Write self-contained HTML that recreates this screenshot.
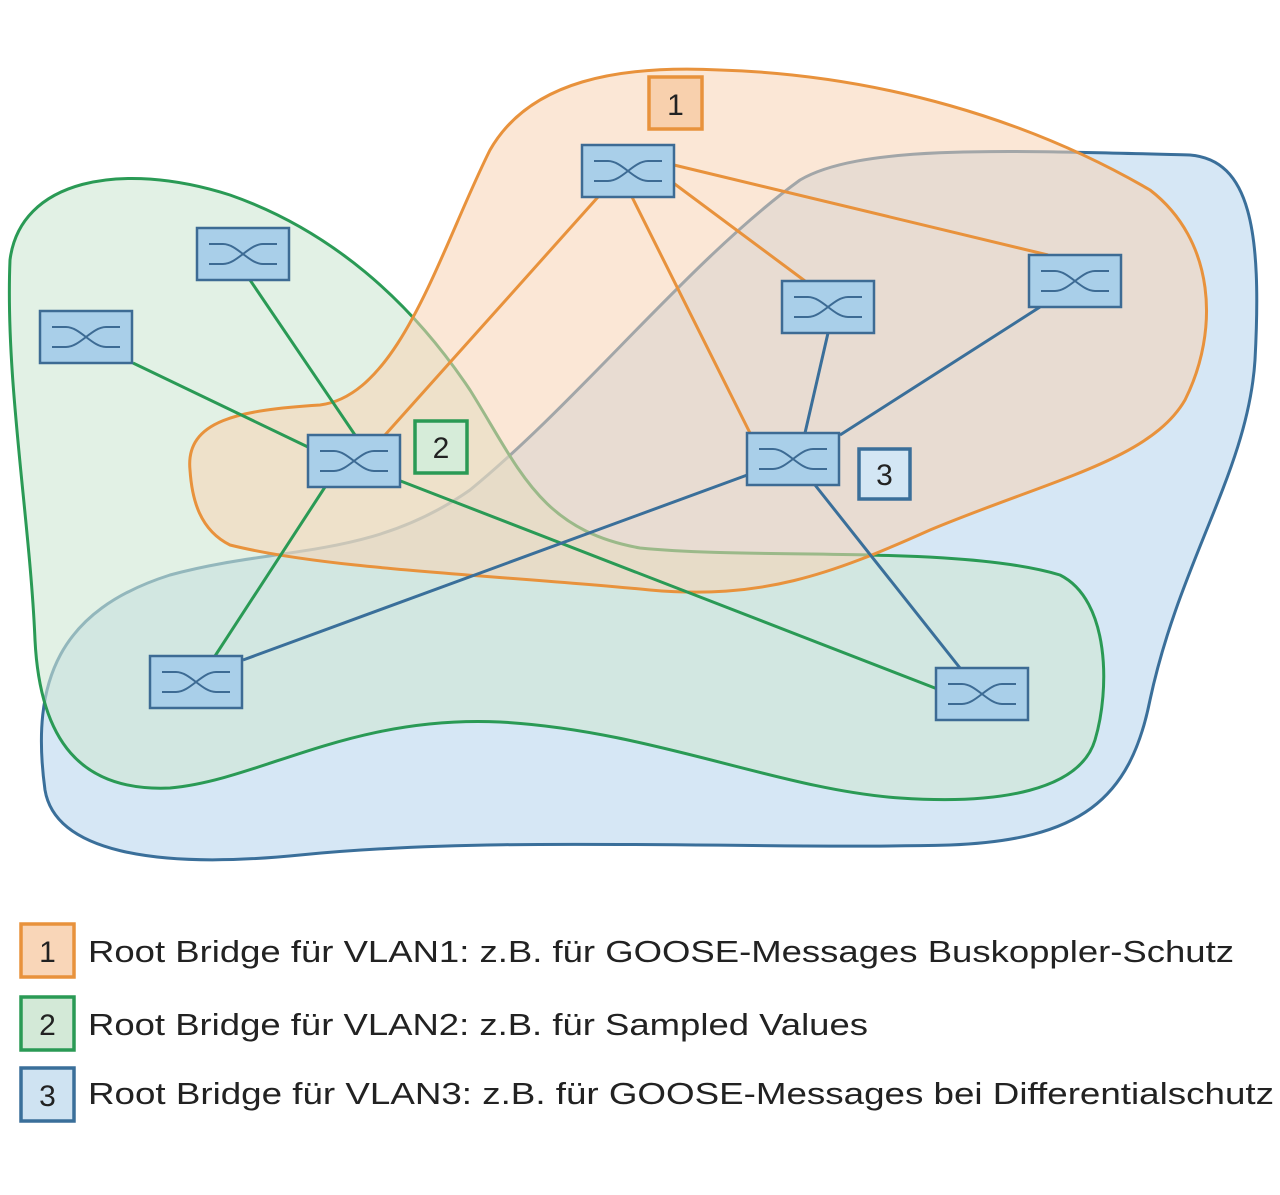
<!DOCTYPE html>
<html><head><meta charset="utf-8"><style>
body{margin:0;background:#fff}
svg text{font-family:"Liberation Sans",sans-serif;fill:#222}
</style></head><body>
<svg width="1280" height="1190" viewBox="0 0 1280 1190">
<defs>
<g id="sw">
<rect x="-46" y="-26" width="92" height="52" fill="#a9cfe9" stroke="#3d6b94" stroke-width="2.5"/>
<path d="M-34,-10 H-20 C-6,-10 6,10 20,10 H34 M-34,10 H-20 C-6,10 6,-10 20,-10 H34" fill="none" stroke="#3d6b94" stroke-width="2"/>
</g>
</defs>
<path d="M45,790 C30,680 60,610 170,575 C280,545 370,560 470,490 C580,400 690,260 800,180 C860,145 1000,150 1190,155 C1250,160 1262,230 1255,360 C1248,470 1180,560 1150,700 C1130,800 1080,840 950,845 C750,850 500,835 300,855 C150,870 55,850 45,790 Z" fill="#c8dff1" fill-opacity="0.75" stroke="#3a6f9a" stroke-width="3"/>
<path d="M10,260 C20,180 120,160 230,195 C330,230 410,300 470,390 C520,470 540,530 640,548 C760,560 960,545 1060,575 C1110,600 1110,690 1095,740 C1080,790 1000,805 900,798 C780,790 650,730 500,722 C350,715 260,780 170,788 C80,792 40,740 35,640 C30,520 5,380 10,260 Z" fill="#cfe7d3" fill-opacity="0.6" stroke="#2a9a55" stroke-width="3"/>
<path d="M190,470 C185,420 240,410 320,405 C400,395 440,250 490,150 C530,80 620,65 720,70 C880,75 1030,120 1150,190 C1215,240 1220,330 1185,400 C1150,460 1050,480 930,530 C830,575 760,600 650,590 C500,575 330,570 230,545 C200,530 192,500 190,470 Z" fill="#f8d4b4" fill-opacity="0.55" stroke="#e8923c" stroke-width="3"/>
<g stroke-width="3" fill="none">
<line x1="598" y1="197" x2="385" y2="435" stroke="#e8923c"/>
<line x1="632" y1="197" x2="750" y2="433" stroke="#e8923c"/>
<line x1="672" y1="182" x2="805" y2="281" stroke="#e8923c"/>
<line x1="674" y1="165" x2="1048" y2="255" stroke="#e8923c"/>
<line x1="133" y1="363" x2="310" y2="448" stroke="#2a9a55"/>
<line x1="250" y1="280" x2="355" y2="435" stroke="#2a9a55"/>
<line x1="325" y1="487" x2="215" y2="656" stroke="#2a9a55"/>
<line x1="398" y1="480" x2="940" y2="690" stroke="#2a9a55"/>
<line x1="828" y1="333" x2="805" y2="433" stroke="#3a6f9a"/>
<line x1="1040" y1="307" x2="840" y2="435" stroke="#3a6f9a"/>
<line x1="750" y1="474" x2="243" y2="660" stroke="#3a6f9a"/>
<line x1="815" y1="485" x2="960" y2="668" stroke="#3a6f9a"/>
</g>
<use href="#sw" x="628" y="171"/>
<use href="#sw" x="243" y="254"/>
<use href="#sw" x="86" y="337"/>
<use href="#sw" x="354" y="461"/>
<use href="#sw" x="828" y="307"/>
<use href="#sw" x="1075" y="281"/>
<use href="#sw" x="793" y="459"/>
<use href="#sw" x="196" y="682"/>
<use href="#sw" x="982" y="694"/>
<rect x="649" y="77" width="53" height="52" fill="#f8d0ad" stroke="#e8923c" stroke-width="3.5"/>
<text x="675.5" y="115" font-size="30" text-anchor="middle">1</text>
<rect x="415" y="421" width="52" height="52" fill="#d6ecd9" stroke="#2a9a55" stroke-width="3.5"/>
<text x="441" y="458" font-size="30" text-anchor="middle">2</text>
<rect x="859" y="449" width="51" height="50" fill="#d3e6f4" stroke="#3a6f9a" stroke-width="3.5"/>
<text x="884.5" y="485" font-size="30" text-anchor="middle">3</text>
<rect x="21" y="924" width="53" height="53" fill="#f9d6b8" stroke="#e8923c" stroke-width="3.5"/>
<text x="47.5" y="962" font-size="30" text-anchor="middle">1</text>
<rect x="21" y="997" width="53" height="53" fill="#d3e9d7" stroke="#2a9a55" stroke-width="3.5"/>
<text x="47.5" y="1035" font-size="30" text-anchor="middle">2</text>
<rect x="21" y="1068" width="53" height="53" fill="#cfe3f2" stroke="#3a6f9a" stroke-width="3.5"/>
<text x="47.5" y="1106" font-size="30" text-anchor="middle">3</text>
<text x="88" y="962" font-size="31" textLength="1146" lengthAdjust="spacingAndGlyphs">Root Bridge für VLAN1: z.B. für GOOSE-Messages Buskoppler-Schutz</text>
<text x="88" y="1035" font-size="31" textLength="780" lengthAdjust="spacingAndGlyphs">Root Bridge für VLAN2: z.B. für Sampled Values</text>
<text x="88" y="1104" font-size="31" textLength="1186" lengthAdjust="spacingAndGlyphs">Root Bridge für VLAN3: z.B. für GOOSE-Messages bei Differentialschutz</text>
</svg>
</body></html>
